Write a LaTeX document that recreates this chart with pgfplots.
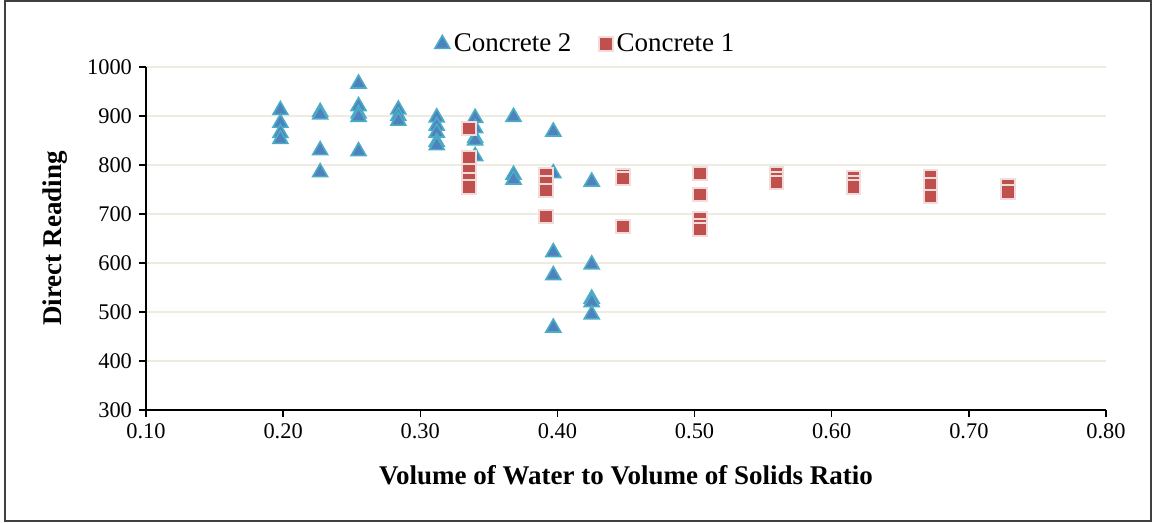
\documentclass[border=0pt]{standalone}
\usepackage{fontspec}
\setmainfont{Liberation Serif}
\usepackage{pgfplots}
\pgfplotsset{compat=1.18}
\definecolor{triFill}{HTML}{4F81BD}
\definecolor{triEdge}{HTML}{4BACC6}
\definecolor{sqFill}{HTML}{C0504D}
\definecolor{sqEdge}{HTML}{F2DCDB}
\definecolor{gridTan}{HTML}{EEECE1}
\begin{document}
\begin{tikzpicture}
\begin{axis}[
  scale only axis,
  width=480pt, height=171.5pt,
  xmin=0.1, xmax=0.8, ymin=300, ymax=1000,
  xtick={0.1,0.2,...,0.8},
  ytick={300,400,...,1000},
  axis x line*=bottom, axis y line*=left,
  axis line style={line width=0.75pt},
  tick style={black, line width=0.75pt},
  tick align=outside, major tick length=3.5pt,
  ymajorgrids, grid style={gridTan, line width=0.8pt},
  /pgf/number format/assume math mode=true,
  xticklabel style={/pgf/number format/.cd, fixed, fixed zerofill, precision=2},
  yticklabel style={/pgf/number format/.cd, 1000 sep={}},
  ticklabel style={font=\fontsize{11.2}{13}\selectfont},
  xlabel={Volume of Water to Volume of Solids Ratio},
  ylabel={Direct Reading},
  every axis x label/.style={at={(axis description cs:0.5,-0.19)}, anchor=center,
    font=\fontsize{13.5}{16}\selectfont\bfseries},
  every axis y label/.style={at={(axis description cs:-0.095,0.5)}, anchor=center, rotate=90,
    font=\fontsize{13.5}{16}\selectfont\bfseries},
  legend columns=2,
  legend style={draw=none, at={(0.459,1.067)}, anchor=center,
    font=\fontsize{13.5}{16}\selectfont,
    /tikz/every even column/.append style={column sep=12pt}},
  legend cell align=left,
]
\addplot[only marks, mark=triangle*, mark size=4.3pt,
  mark options={fill=triFill, draw=triEdge, line width=0.8pt}]
coordinates {
  (0.198,912)(0.198,886)(0.198,865)(0.198,853)
  (0.227,908)(0.227,903)(0.227,830)(0.227,785)
  (0.255,966)(0.255,920)(0.255,905)(0.255,898)(0.255,828)
  (0.284,913)(0.284,900)(0.284,890)
  (0.312,897)(0.312,880)(0.312,866)(0.312,847)(0.312,840)
  (0.340,896)(0.340,875)(0.340,855)(0.340,850)(0.340,818)
  (0.368,898)(0.368,780)(0.368,770)
  (0.397,868)(0.397,783)(0.397,622)(0.397,575)(0.397,468)
  (0.425,766)(0.425,597)(0.425,527)(0.425,520)(0.425,495)
};
\addlegendentry{Concrete 2}
\addplot[only marks, mark=square*, mark size=3.3pt,
  mark options={fill=sqFill, draw=sqEdge, line width=1pt}]
coordinates {
  (0.3355,875)(0.3355,815)(0.3355,788)(0.3355,770)(0.3355,755)
  (0.3917,780)(0.3917,765)(0.3917,748)(0.3917,695)
  (0.4478,778)(0.4478,773)(0.4478,675)
  (0.504,783)(0.504,740)(0.504,690)(0.504,676)(0.504,668)
  (0.560,782)(0.560,772)(0.560,765)
  (0.616,775)(0.616,765)(0.616,755)
  (0.672,777)(0.672,760)(0.672,735)
  (0.7285,758)(0.7285,745)
};
\addlegendentry{Concrete 1}
\end{axis}
\draw[black!75, line width=0.8pt] (-70.5pt,-55.6pt) rectangle (502.5pt,204.6pt);
\path (-73pt,-56.5pt) rectangle (504pt,205pt);
\end{tikzpicture}
\end{document}
